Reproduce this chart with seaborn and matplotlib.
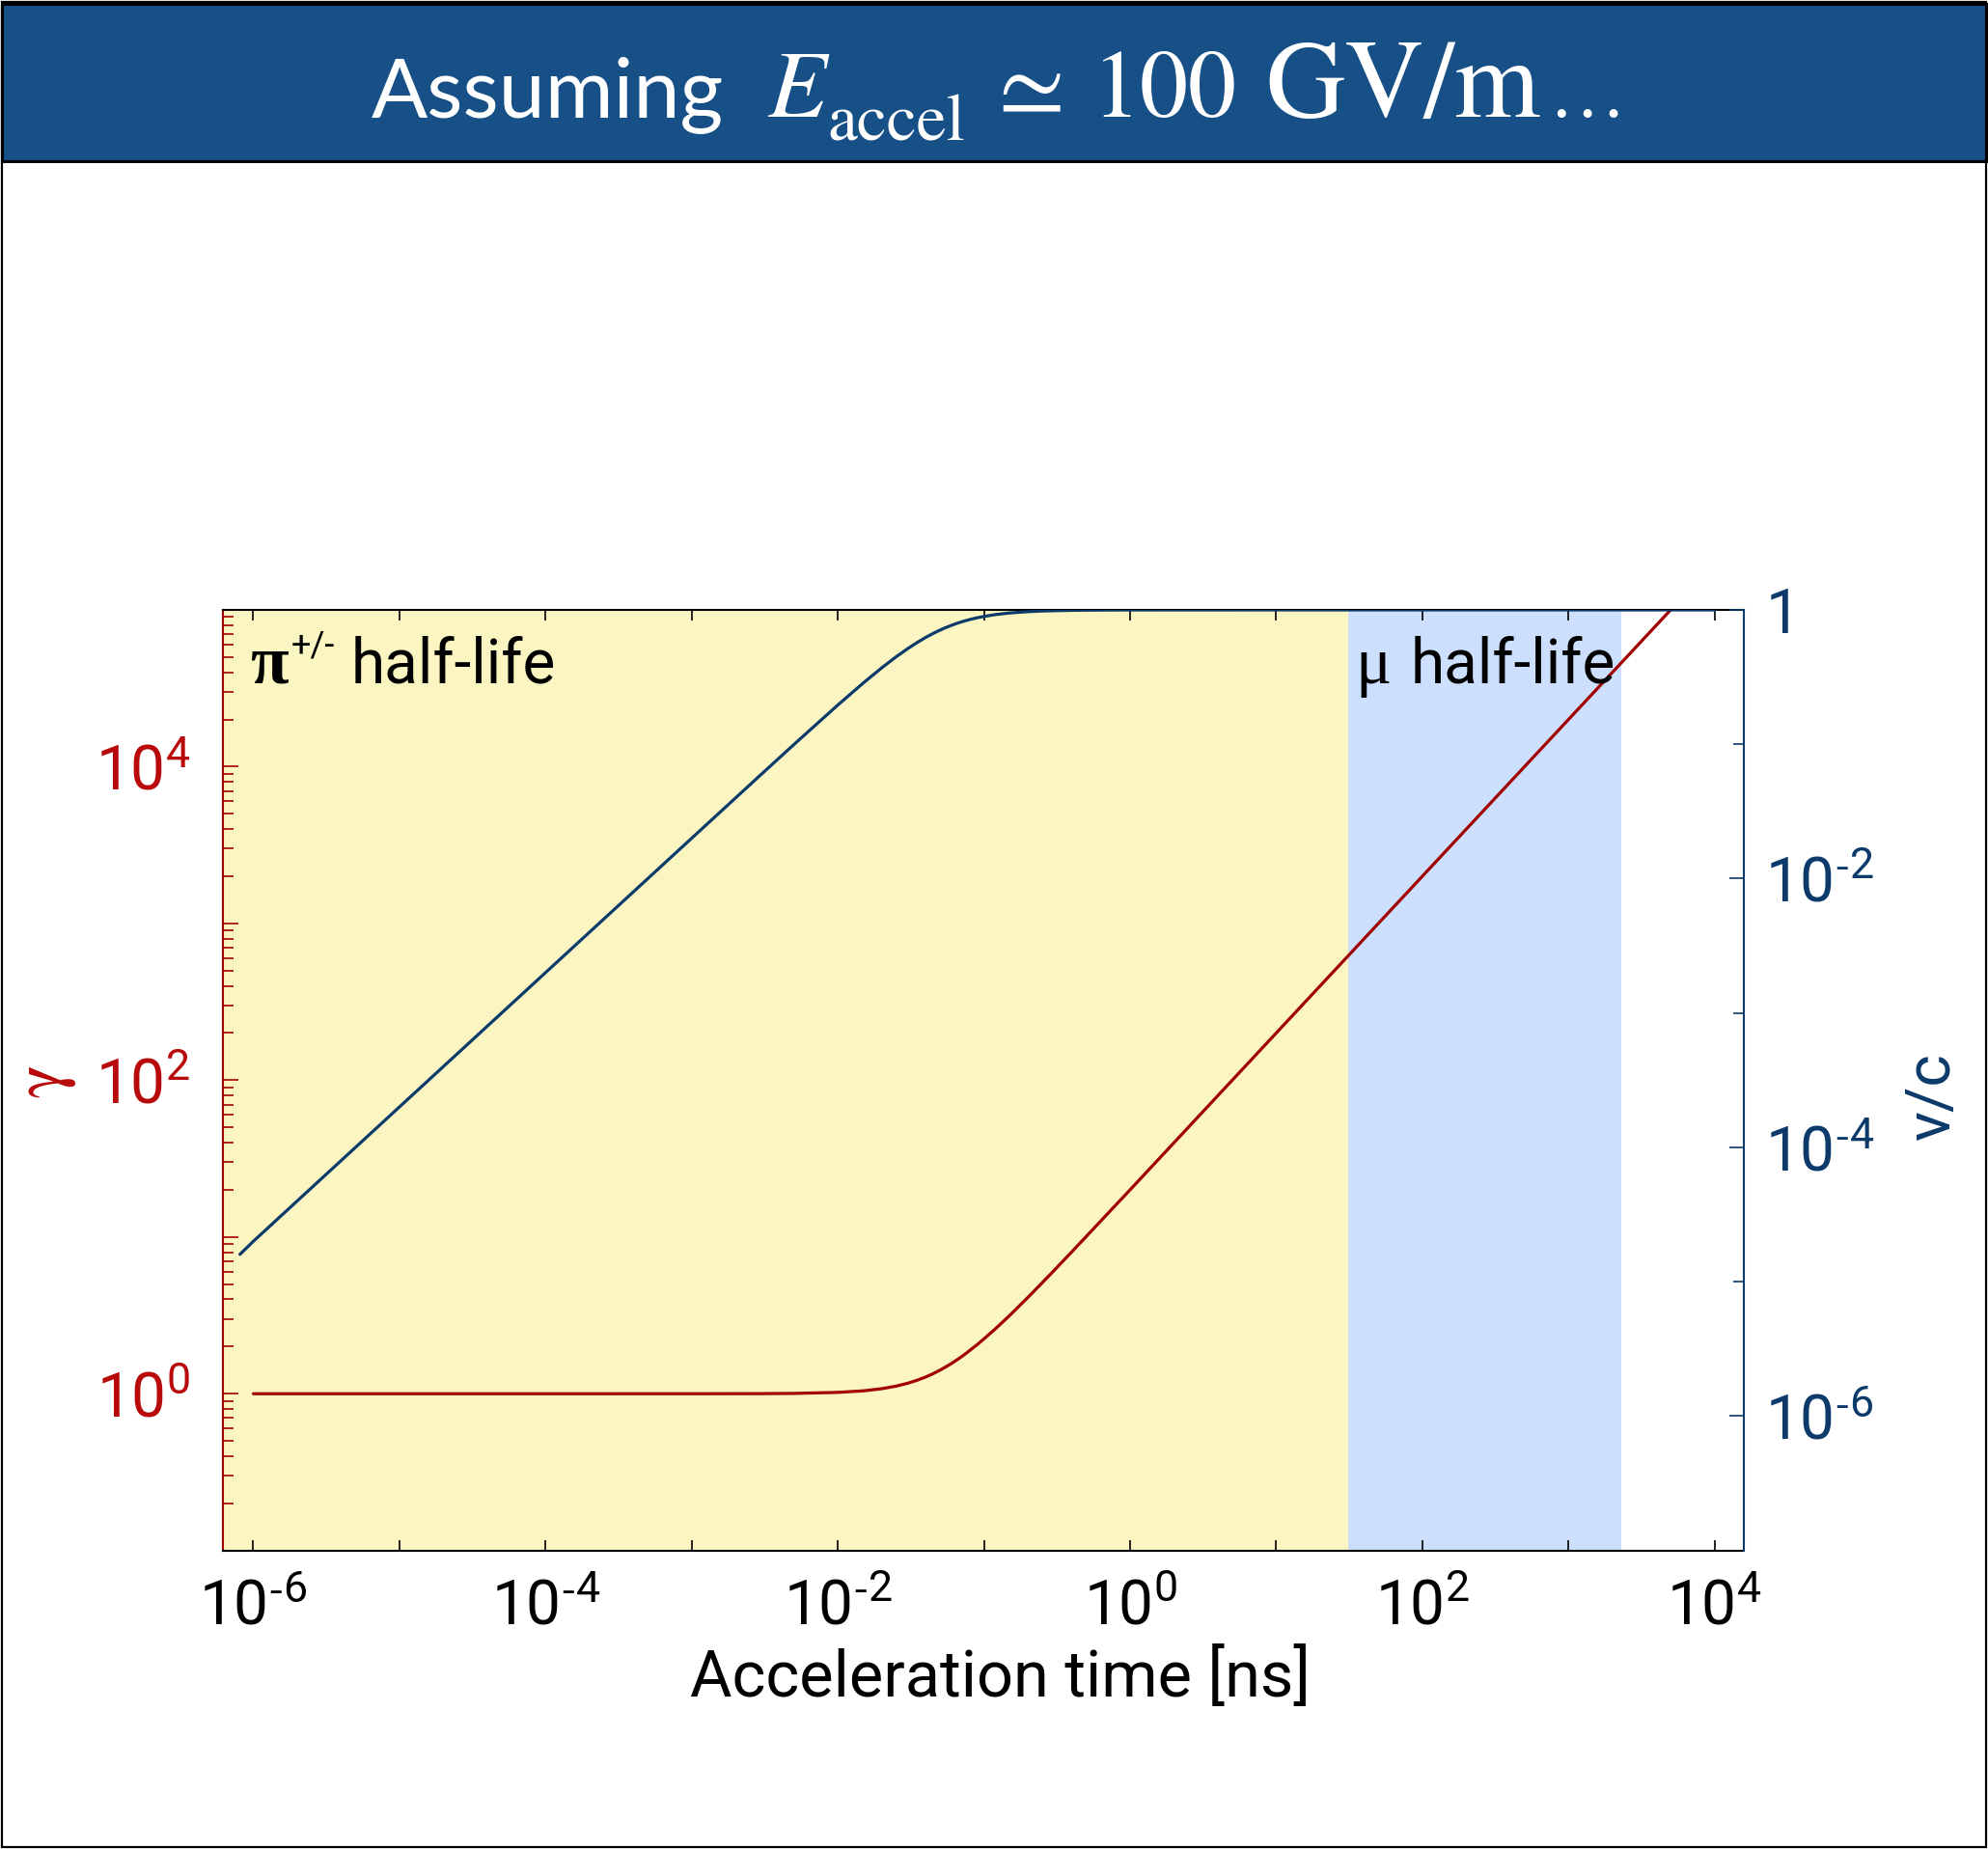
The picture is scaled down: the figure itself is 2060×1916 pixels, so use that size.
import numpy as np
import pandas as pd
import matplotlib
matplotlib.use("Agg")
import matplotlib.pyplot as plt
import seaborn as sns
from matplotlib.ticker import FixedLocator, FuncFormatter, NullFormatter, NullLocator, LogLocator
from matplotlib.patches import Rectangle

# ---------------- data ----------------
# acceleration time [ns] and Lorentz factor gamma
t_gamma = [1e-6, 1e-4, 1e-3, 3e-3, 5e-3, 0.01, 0.015, 0.02, 0.025, 0.03, 0.035, 0.04,
           0.045, 0.05, 0.055, 0.06, 0.065, 0.07, 0.075, 0.08, 0.09, 0.1, 0.12, 0.15,
           0.2, 0.25, 0.3, 0.4, 0.5, 0.7, 1.0, 2.0, 10.0, 100.0, 1000.0, 10000.0]
gamma = [1.0, 1.0, 1.0002, 1.0018, 1.005, 1.02, 1.044, 1.077, 1.118, 1.166, 1.221, 1.28,
         1.345, 1.414, 1.487, 1.56, 1.64, 1.72, 1.803, 1.89, 2.059, 2.24, 2.6, 3.16,
         4.12, 5.10, 6.08, 8.06, 10.05, 14.04, 20.0, 40.0, 200.0, 2000.0, 20000.0, 200000.0]

# acceleration time [ns] and velocity v/c
t_beta = [8.1e-7, 1e-6, 1e-5, 1e-4, 1e-3, 3e-3, 5e-3, 0.01, 0.015, 0.02, 0.025, 0.03,
          0.035, 0.04, 0.045, 0.05, 0.055, 0.06, 0.065, 0.07, 0.075, 0.08, 0.09, 0.1,
          0.12, 0.15, 0.2, 0.25, 0.3, 0.4, 0.5, 0.7, 1.0, 2.0, 10.0, 100.0, 1000.0, 10000.0]
beta = [1.6e-5, 2e-5, 2e-4, 2e-3, 0.02, 0.0599, 0.0995, 0.196, 0.287, 0.371, 0.447, 0.514,
        0.573, 0.625, 0.669, 0.707, 0.740, 0.768, 0.793, 0.814, 0.832, 0.848, 0.874, 0.894,
        0.923, 0.949, 0.970, 0.981, 0.986, 0.992, 0.995, 0.9975, 0.99875, 0.99969,
        1.0, 1.0, 1.0, 1.0]

# shaded half-life windows [ns]
pion_window = [1e-7, 31.0]
muon_window = [31.0, 2290.0]

x_label_exps = [-6, -4, -2, 0, 2, 4]
gamma_label_exps = [0, 2, 4]
beta_label_exps = [-6, -4, -2, 0]

RED = "#A20000"
RED_TXT = "#B80A0A"
NAVY = "#0B3A6B"
YELLOW = "#FBF6C1"
LIGHTBLUE = "#CCE0FE"
BANNER = "#174F87"

sns.set_style("white")
plt.rcParams["font.family"] = ["Roboto", "DejaVu Sans"]
plt.rcParams["font.weight"] = "normal"
plt.rcParams["mathtext.fontset"] = "stix"
plt.rcParams["axes.unicode_minus"] = False
plt.rcParams["text.color"] = "black"
plt.rcParams["axes.labelcolor"] = "black"

W, H = 2060, 1916
fig = plt.figure(figsize=(W / 100, H / 100), dpi=100)
fig.patch.set_facecolor("white")

L, R, T, B = 230.7, 1807.0, 632.0, 1606.7
ax = fig.add_axes([L / W, 1 - B / H, (R - L) / W, (B - T) / H])
ax.set_xscale("log")
ax.set_yscale("log")
ax2 = ax.twinx()
ax2.set_yscale("log")

# shaded windows
ax.axvspan(pion_window[0], pion_window[1], color=YELLOW, lw=0, zorder=0)
ax.axvspan(muon_window[0], muon_window[1], color=LIGHTBLUE, lw=0, zorder=0)

df_g = pd.DataFrame({"t": t_gamma, "gamma": gamma})
df_b = pd.DataFrame({"t": t_beta, "beta": beta})
sns.lineplot(data=df_g, x="t", y="gamma", ax=ax, color=RED, lw=2.3, zorder=3)
sns.lineplot(data=df_b, x="t", y="beta", ax=ax2, color=NAVY, lw=2.3, zorder=3)

ax.set_xlim(10 ** -6.21, 10 ** 4.2)
ax.set_ylim(0.1, 1e5)
ax2.set_ylim(1e-7, 1)


def fmt_factory(exps, one_as_1=False):
    def f(v, pos):
        e = int(round(np.log10(v)))
        if e not in exps:
            return ""
        if one_as_1 and e == 0:
            return "1"
        if e < 0:
            return r"$\mathregular{10^{\text{-}%d}}$" % (-e)
        return r"$\mathregular{10^{%d}}$" % e
    return f


# x axis
ax.xaxis.set_major_locator(FixedLocator(10.0 ** np.arange(-6, 5)))
ax.xaxis.set_minor_locator(NullLocator())
ax.xaxis.set_major_formatter(FuncFormatter(fmt_factory(x_label_exps)))
ax.tick_params(axis="x", which="major", direction="in", length=8, width=1.2,
               top=True, bottom=True, labelsize=46, pad=20, colors="black")

# left gamma axis
ax.yaxis.set_major_locator(FixedLocator(10.0 ** np.arange(-1, 6)))
ax.yaxis.set_minor_locator(LogLocator(base=10, subs=np.arange(2, 10), numticks=30))
ax.yaxis.set_major_formatter(FuncFormatter(fmt_factory(gamma_label_exps)))
ax.yaxis.set_minor_formatter(NullFormatter())
ax.tick_params(axis="y", which="major", direction="in", length=11.5, width=1.2,
               color=RED, labelcolor=RED_TXT, labelsize=46, pad=24)
ax.tick_params(axis="y", which="minor", direction="in", length=8, width=1.2, color=RED)

# right v/c axis
ax2.yaxis.set_major_locator(FixedLocator([1e-6, 1e-4, 1e-2, 1.0]))
ax2.yaxis.set_minor_locator(FixedLocator([1e-5, 1e-3, 1e-1]))
ax2.yaxis.set_major_formatter(FuncFormatter(fmt_factory(beta_label_exps, one_as_1=True)))
ax2.yaxis.set_minor_formatter(NullFormatter())
ax2.tick_params(axis="y", which="major", direction="in", length=11, width=1.2,
                color=NAVY, labelcolor=NAVY, labelsize=46, pad=16)
ax2.tick_params(axis="y", which="minor", direction="in", length=8, width=1.2, color=NAVY)

# spines
for s in ["top", "bottom"]:
    ax.spines[s].set_color("black")
    ax.spines[s].set_linewidth(1.5)
ax.spines["left"].set_color(RED)
ax.spines["left"].set_linewidth(1.5)
ax.spines["right"].set_visible(False)
for s in ["left", "top", "bottom"]:
    ax2.spines[s].set_visible(False)
ax2.spines["right"].set_color(NAVY)
ax2.spines["right"].set_linewidth(1.5)

# labels
ax.set_xlabel("Acceleration time [ns]", fontsize=48, color="black")
ax.xaxis.set_label_coords(0.511, -0.103)
ax.set_ylabel("γ", fontsize=52, color=RED_TXT, family="STIXGeneral")
ax.yaxis.set_label_coords(-0.097, 0.5)
ax2.set_ylabel("v/c", fontsize=46, color=NAVY)
ax2.yaxis.set_label_coords(1.104, 0.483)

# half-life annotations
def ay(py):
    return (B - py) / (B - T)

def axx(px):
    return (px - L) / (R - L)

pi_t = ax.text(axx(259), ay(708), "π", fontsize=52, family="Liberation Serif",
               fontweight="bold", va="baseline", ha="left", zorder=5, color="black",
               transform=ax.transAxes)
sup = ax.annotate("+/-", xy=(1, ay(680)), xycoords=(pi_t, "axes fraction"),
                  xytext=(2, 0), textcoords="offset points", color="black",
                  fontsize=26, va="baseline", ha="left", zorder=5)
ax.annotate("half-life", xy=(1, ay(708)), xycoords=(sup, "axes fraction"),
            xytext=(12, 0), textcoords="offset points", color="black",
            fontsize=46, va="baseline", ha="left", zorder=5)

mu_t = ax.text(axx(1404), ay(708), "μ", fontsize=50, family="Liberation Serif",
               va="baseline", ha="left", zorder=5, color="black",
               transform=ax.transAxes)
ax.annotate("half-life", xy=(1, ay(708)), xycoords=(mu_t, "axes fraction"),
            xytext=(15, 0), textcoords="offset points", color="black",
            fontsize=46, va="baseline", ha="left", zorder=5)

# banner and frame
fig.patches.append(Rectangle((1.5 / W, 1 - 167 / H), (W - 3) / W, 163 / H,
                             transform=fig.transFigure, facecolor=BANNER,
                             edgecolor="black", lw=2.2, zorder=0))
fig.patches.append(Rectangle((2 / W, 2 / H), (W - 4) / W, (H - 4) / H,
                             transform=fig.transFigure, fill=False,
                             edgecolor="black", lw=1.6, zorder=0))

def fy(py):
    return 1 - py / H

base = 121
fig.text(385 / W, fy(base), "Assuming", fontsize=62, color="white",
         family=["Lato", "DejaVu Sans"], va="baseline", ha="left")
fig.text(795 / W, fy(base), r"$E$", fontsize=72, color="white", va="baseline", ha="left")
fig.text(857 / W, fy(146), "accel", fontsize=50, color="white", family="STIXGeneral",
         va="baseline", ha="left")
fig.text(1034 / W, fy(base), "≃", fontsize=72, color="white", family="STIXGeneral",
         va="baseline", ha="left")
fig.text(1132 / W, fy(base), "100", fontsize=72, color="white", family="STIXGeneral",
         va="baseline", ha="left")
fig.text(1311 / W, fy(base), "GV/m", fontsize=82, color="white", family="STIXGeneral",
         va="baseline", ha="left")
fig.text(1604 / W, fy(base), "…", fontsize=58, color="white", family="STIXGeneral",
         va="baseline", ha="left")

fig.savefig("out.png", dpi=100)
